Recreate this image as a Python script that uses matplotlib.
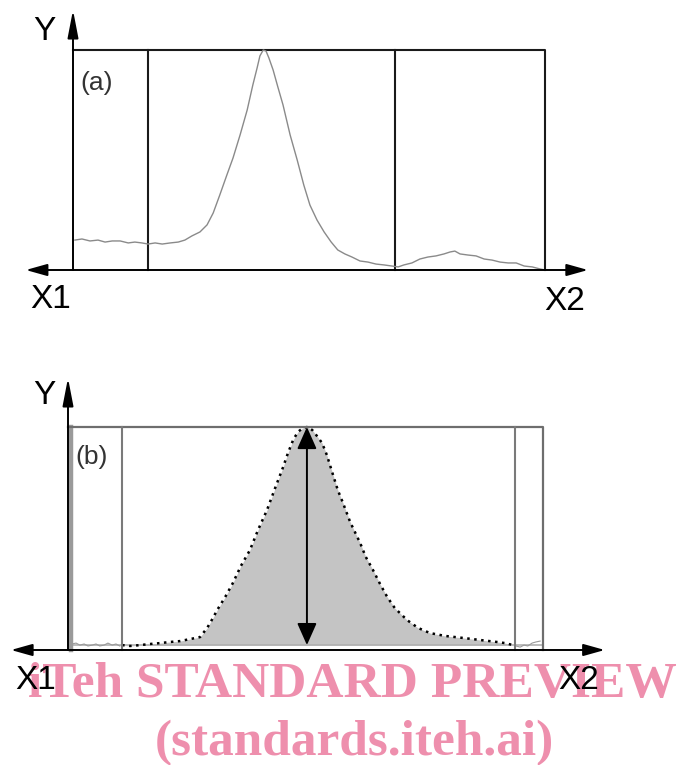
import matplotlib.pyplot as plt
from matplotlib.patches import ArrowStyle

# ---- panel (a): raw profile, x in % of the window, y in % of box height
xa = [0.4, 1.9, 3.6, 5.3, 6.8, 8.3, 10.0, 11.7, 13.1, 14.6, 15.9, 17.4, 18.9,
      20.6, 22.3, 23.7, 25.2, 26.9, 28.4, 29.7, 31.1, 32.6, 33.9, 35.4, 36.9,
      38.1, 39.0, 39.6, 40.3, 40.9, 41.5, 42.4, 43.4, 44.5, 46.0, 47.5, 48.9,
      50.2, 51.7, 53.2, 54.7, 56.1, 57.6, 59.1, 60.8, 62.5, 64.2, 65.9, 67.6,
      68.9, 70.1, 71.8, 73.5, 75.2, 76.9, 78.6, 79.9, 80.9, 82.0, 83.7, 85.4,
      87.1, 88.8, 90.5, 92.2, 93.9, 95.6, 97.3, 98.9, 100.0]
ya = [13.6, 14.1, 13.2, 13.6, 12.7, 13.2, 13.2, 12.3, 12.7, 12.3, 11.8, 12.3, 11.8,
      12.3, 12.7, 13.6, 15.5, 17.3, 20.5, 25.9, 34.1, 43.2, 50.9, 61.4, 72.7,
      84.1, 91.8, 97.3, 100.0, 99.5, 96.4, 90.9, 83.2, 75.0, 61.4, 50.0, 38.6,
      29.5, 22.7, 17.3, 12.7, 9.1, 7.3, 5.9, 4.1, 3.6, 2.7, 2.3, 1.8,
      1.4, 2.3, 3.2, 5.0, 5.9, 6.4, 7.3, 8.2, 8.6, 7.3, 6.8, 6.4,
      5.0, 4.5, 3.6, 3.2, 3.2, 1.8, 1.4, 0.5, 0.0]
a_limits = [15.9, 68.2]

# ---- panel (b): smoothed peak
xb = [11.4, 13.1, 15.2, 17.3, 19.4, 21.5, 23.6, 25.7, 27.8, 29.3, 30.5, 31.4,
      33.1, 34.7, 36.4, 38.3, 40.0, 41.9, 43.6, 45.3, 46.3, 47.4, 48.4, 49.5,
      50.3, 51.4, 52.4, 53.5, 54.5, 55.8, 56.8, 57.9, 59.4, 61.5, 62.7, 64.2,
      65.7, 67.2, 68.8, 71.4, 73.7, 76.2, 79.4, 83.2, 86.7, 90.3, 92.0, 93.7]
yb = [2.2, 1.8, 2.2, 2.7, 3.1, 3.6, 4.0, 4.9, 5.8, 9.9, 14.3, 17.9,
      23.8, 30.0, 37.7, 44.8, 53.8, 62.8, 72.6, 82.1, 88.3, 94.2, 97.8, 99.6,
      100.0, 98.7, 96.0, 92.8, 87.4, 78.5, 71.7, 65.9, 57.4, 48.0, 41.7, 35.9,
      29.6, 23.8, 18.8, 13.4, 9.9, 7.6, 6.3, 5.4, 4.5, 3.6, 3.1, 2.2]
b_base = 2.2
b_limits = [11.4, 94.1]
b_peak = 50.3
noise_lx = [0.8, 1.7, 2.5, 3.4, 4.2, 5.1, 5.9, 6.7, 7.6, 8.4, 9.3, 10.1, 10.9]
noise_ly = [2.7, 3.1, 2.2, 2.7, 1.8, 2.2, 2.7, 1.8, 2.2, 3.1, 2.2, 2.7, 1.8]
noise_rx = [94.3, 95.2, 96.0, 96.8, 97.7, 98.5, 99.4]
noise_ry = [1.8, 1.3, 2.2, 1.8, 3.1, 3.6, 4.0]

fig = plt.figure(figsize=(6.76, 7.65), dpi=100)
W, H = 676, 765


def panel(left, bottom, right, top):
    ax = fig.add_axes([left / W, 1 - bottom / H, (right - left) / W, (bottom - top) / H])
    ax.set_xlim(0, 100)
    ax.set_ylim(0, 100)
    ax.axis("off")
    ax.set_zorder(5)
    ax.patch.set_alpha(0)
    return ax


def axes_arrows(ax, x0, x1, ytip):
    st = ArrowStyle("<|-|>", head_length=1.0, head_width=0.28)
    ax.annotate("", xy=(x1, 0), xytext=(x0, 0), annotation_clip=False,
                arrowprops=dict(arrowstyle=st, mutation_scale=13, color="black",
                                lw=1.4, shrinkA=0, shrinkB=0))
    ax.annotate("", xy=(0, ytip), xytext=(0, 0), annotation_clip=False,
                arrowprops=dict(arrowstyle=ArrowStyle("-|>", head_length=1.3, head_width=0.25),
                                mutation_scale=13, color="black", lw=1.4,
                                shrinkA=0, shrinkB=0))


lab = dict(family="Liberation Sans", fontsize=24, ha="center", va="center", color="black")
tag = dict(family="Liberation Sans", fontsize=19, ha="center", va="center", color="#333333")

# ---------------- (a)
ax = panel(73, 270, 545, 50)
axes_arrows(ax, -10.0, 109.1, 118.2)
ax.plot([0, 100, 100], [100, 100, 0], color="#1a1a1a", lw=1.5, clip_on=False)
for xv in a_limits:
    ax.plot([xv, xv], [0, 100], color="#1a1a1a", lw=1.5, clip_on=False)
ax.plot(xa, ya, color="#8a8a8a", lw=1.0, clip_on=False)
ax.text(-6.1, 108.5, "Y", **lab)
ax.text(-4.7, -13.6, "X1", **lab)
ax.text(104.2, -14.1, "X2", **lab)
ax.text(5.1, 85.0, "(a)", **tag)

# ---------------- (b)
bx = panel(68, 650, 543, 427)
bx.fill_between(xb, b_base, yb, color="#c4c4c4", lw=0)
bx.plot([0, 100], [b_base, b_base], color="#b0b0b0", lw=1.2, clip_on=False)
bx.plot(xb, yb, color="black", lw=1.8, ls=(0, (1, 1.8)), clip_on=False)
bx.plot(noise_lx, noise_ly, color="#9a9a9a", lw=0.8, clip_on=False)
bx.plot(noise_rx, noise_ry, color="#9a9a9a", lw=0.8, clip_on=False)
bx.plot([0.6, 0.6], [0, 100], color="#9a9a9a", lw=3.2, clip_on=False)
bx.plot([0, 100, 100], [100, 100, 0], color="#6e6e6e", lw=1.6, clip_on=False)
for xv in b_limits:
    bx.plot([xv, xv], [0, 100], color="#7a7a7a", lw=1.5, clip_on=False)
bx.annotate("", xy=(b_peak, b_base), xytext=(b_peak, 100), annotation_clip=False,
            arrowprops=dict(arrowstyle=ArrowStyle("<|-|>", head_length=0.9, head_width=0.4),
                            mutation_scale=15, color="black", lw=1.4,
                            shrinkA=0, shrinkB=0))
axes_arrows(bx, -12.0, 113.0, 122.0)
bx.text(-5.0, 114.3, "Y", **lab)
bx.text(-6.9, -13.9, "X1", **lab)
bx.text(107.6, -13.9, "X2", **lab)
bx.text(5.0, 86.5, "(b)", **tag)

# watermark
wm = dict(family="Liberation Serif", weight="bold", fontsize=37, color="#ee8fad", zorder=1)
fig.text(28 / W, 1 - 697 / H, "iTeh STANDARD PREVIEW", ha="left", va="baseline", **wm)
fig.text(354 / W, 1 - 755 / H, "(standards.iteh.ai)", ha="center", va="baseline", **wm)

fig.savefig("out.png", dpi=100, facecolor="white")
